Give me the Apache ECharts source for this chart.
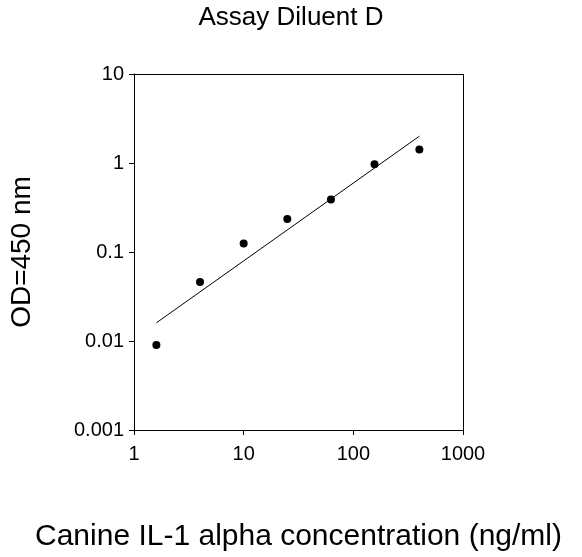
<!DOCTYPE html><html><head><meta charset="utf-8"><script src="https://cdn.jsdelivr.net/npm/echarts@6/dist/echarts.min.js"></script></head><body style="margin:0"><div id="c" style="width:582px;height:557px"></div><script>
const concs=[1.6,4,10,25,62.5,156,400];
const ods=[0.009,0.046,0.125,0.235,0.39,0.97,1.42];
const fitX=[1.6,400];
const fitY=[0.016,2.0];
const xTicks=[1,10,100,1000];
const yTicks=[0.001,0.01,0.1,1,10];
const f='Liberation Sans, Arial, sans-serif';
const ch=echarts.init(document.getElementById('c'));
ch.setOption({
 title:{text:'Assay Diluent D',left:'center',top:0,textStyle:{fontFamily:f,fontSize:26,fontWeight:'normal',color:'#000'}},
 grid:{left:124,right:119,top:74,bottom:119},
 xAxis:{type:'log',min:1,max:1000,logBase:10,name:'Canine IL-1 alpha concentration (ng/ml)',nameLocation:'middle',nameGap:92,
  nameTextStyle:{fontFamily:f,fontSize:30,color:'#000'},
  axisLine:{lineStyle:{color:'#000'}},axisTick:{lineStyle:{color:'#000'},length:5},splitLine:{show:false},
  axisLabel:{fontFamily:f,fontSize:20,color:'#000',margin:14,formatter:v=>String(v)}},
 yAxis:{type:'log',min:0.001,max:10,logBase:10,name:'OD=450 nm',nameLocation:'middle',nameGap:98,
  nameTextStyle:{fontFamily:f,fontSize:28,color:'#000'},
  axisLine:{lineStyle:{color:'#000'}},axisTick:{lineStyle:{color:'#000'},length:5},splitLine:{show:false},
  axisLabel:{fontFamily:f,fontSize:20,color:'#000',margin:10,formatter:v=>String(+v.toPrecision(1))}},
 series:[
  {type:'scatter',data:concs.map((x,i)=>[x,ods[i]]),symbolSize:8,itemStyle:{color:'#000',opacity:1},z:3},
  {type:'line',data:fitX.map((x,i)=>[x,fitY[i]]),showSymbol:false,lineStyle:{color:'#000',width:1}},
  {type:'line',data:[],markLine:{silent:true,symbol:'none',label:{show:false},lineStyle:{color:'#000',width:1,type:'solid'},
   data:[[{coord:[1,10]},{coord:[1000,10]}],[{coord:[1000,0.001]},{coord:[1000,10]}]]}}
 ]
});
</script></body></html>
